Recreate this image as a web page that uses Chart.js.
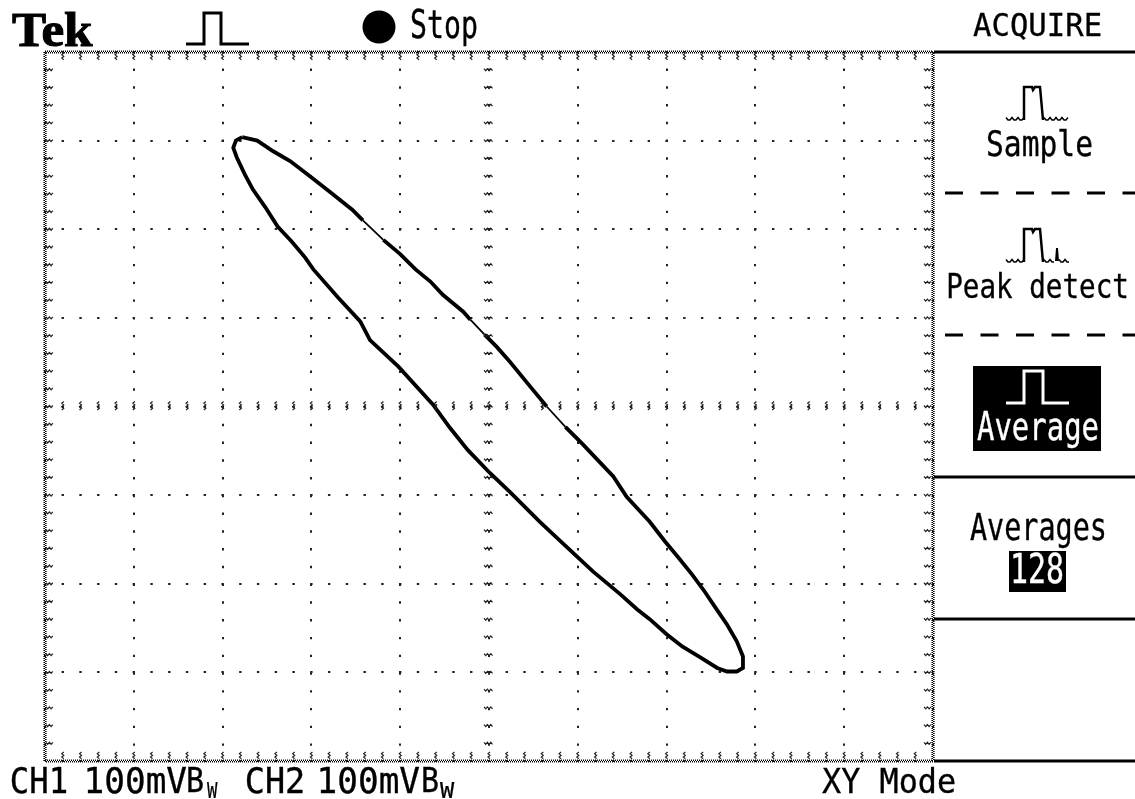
<!DOCTYPE html>
<html>
<head>
<meta charset="utf-8">
<style>html,body{margin:0;padding:0;background:#fff;overflow:hidden}canvas{display:block}</style>
<script src="https://cdn.jsdelivr.net/npm/chart.js@4/dist/chart.umd.min.js"></script>
</head>
<body>
<canvas id="c" width="1135" height="799"></canvas>
<script>
// Lissajous trace, CH1 (x) and CH2 (y), millivolts
const ch1mV = [-278,-261,-243,-224,-202,-179,-154,-142,-119,-100,-83,-66,-52,-29,-21,-5,9,24,46,65,86,106,122,140,155,181,198,213,229,243,255,268,279,286,286,279,268,257,238,218,200,181,167,148,117,88,72,57,24,1,-24,-44,-63,-102,-134,-145,-170,-198,-207,-222,-238,-252,-266,-275,-284,-288,-285,-278];
const ch2mV = [304,300,288,277,260,242,222,210,188,172,155,141,126,107,98,81,67,50,23,0,-23,-43,-60,-79,-102,-130,-152,-170,-190,-209,-227,-246,-265,-282,-295,-299,-299,-295,-283,-271,-257,-240,-229,-212,-186,-159,-144,-130,-97,-75,-49,-24,2,45,75,96,123,155,168,186,203,225,245,262,281,292,300,304];
const xRange = [-500,500];
const yRange = [-400,400];
const divMV = 100;
const minorMV = 20;
const thinSegments = [7,14,19];

// font, text, x0, x1, yTop, yBottom, colour
const MONO = '"DejaVu Sans Mono"';
const labels = [
  ['bold 46px "Liberation Serif"','Tek',12,93,12,46,'#000'],
  [MONO,'Stop',412,477,10,46,'#000'],
  [MONO,'ACQUIRE',973,1101,12,40,'#000'],
  [MONO,'Sample',988,1092,128,163,'#000'],
  [MONO,'Peak detect',948,1127,272,298,'#000'],
  [MONO,'Averages',970,1105,513,547,'#000'],
  [MONO,'CH1',12,67,767,793,'#000'],
  [MONO,'100mV',87,187,767,793,'#000'],
  [MONO,'B',188,203,767,792,'#000'],
  [MONO,'W',207,218,783,798,'#000'],
  [MONO,'CH2',247,303,767,793,'#000'],
  [MONO,'100mV',320,420,767,793,'#000'],
  [MONO,'B',423,438,767,792,'#000'],
  [MONO,'W',440,455,783,798,'#000'],
  [MONO,'XY Mode',822,955,767,793,'#000']
];
const invLabels = [
  [MONO,'Average',977,1098,412,448,'#fff'],
  [MONO,'128',1013,1063,553,583,'#fff']
];

function fitText(ctx,l){
  const [font,t,x0,x1,y0,y1,col]=l;
  ctx.save();
  ctx.font = font.includes('px') ? font : '30px '+font;
  ctx.fillStyle=col; ctx.strokeStyle=col; ctx.lineWidth=font.includes('px')?1:0.3;
  ctx.textBaseline='alphabetic'; ctx.textAlign='left';
  const m=ctx.measureText(t);
  const w=m.actualBoundingBoxLeft+m.actualBoundingBoxRight;
  const h=m.actualBoundingBoxAscent+m.actualBoundingBoxDescent;
  const sx=(x1-x0)/w, sy=(y1-y0)/h;
  ctx.translate(x0,y0); ctx.scale(sx,sy);
  ctx.fillText(t,m.actualBoundingBoxLeft,m.actualBoundingBoxAscent);
  ctx.strokeText(t,m.actualBoundingBoxLeft,m.actualBoundingBoxAscent);
  ctx.restore();
}
function poly(ctx,pts,col,w){
  ctx.save();ctx.strokeStyle=col;ctx.lineWidth=w;ctx.lineJoin='miter';ctx.beginPath();
  pts.forEach((p,i)=>i?ctx.lineTo(p[0],p[1]):ctx.moveTo(p[0],p[1]));ctx.stroke();ctx.restore();
}
function frameLine(ctx,x0,y0,x1,y1){
  ctx.save();ctx.strokeStyle='#000';ctx.lineWidth=1.6;ctx.setLineDash([1,1]);
  const h=y0===y1;
  [-0.8,0.8].forEach((o,i)=>{
    ctx.lineDashOffset=i;
    ctx.beginPath();
    ctx.moveTo(x0+(h?0:o),y0+(h?o:0));ctx.lineTo(x1+(h?0:o),y1+(h?o:0));ctx.stroke();
  });
  ctx.restore();
}
function tick(ctx,x0,y0,x1,y1){
  const len=Math.hypot(x1-x0,y1-y0), ux=(x1-x0)/len, uy=(y1-y0)/len;
  ctx.save();ctx.strokeStyle='#222';ctx.lineWidth=1.2;ctx.beginPath();
  for(let s=0,i=0;s<=len;s+=1.7,i++){
    const o=i%2?1:-1;
    const px=x0+ux*s-uy*o, py=y0+uy*s+ux*o;
    i?ctx.lineTo(px,py):ctx.moveTo(px,py);
  }
  ctx.stroke();ctx.restore();
}
function poly2(ctx,pts){
  ctx.strokeStyle='#000';ctx.lineWidth=3;ctx.beginPath();
  ctx.moveTo(pts[0][0],pts[0][1]);ctx.lineTo(pts[1][0],pts[1][1]);ctx.stroke();
}
function wiggle(ctx,x0,x1,y){
  ctx.save();ctx.strokeStyle='#000';ctx.lineWidth=1.5;ctx.beginPath();
  for(let px=x0,i=0;px<=x1;px+=2,i++){const py=y+(i%3===0?-1.5:1);i?ctx.lineTo(px,py):ctx.moveTo(px,py);}
  ctx.stroke();ctx.restore();
}

const scopeFurniture = {
  id:'scopeFurniture',
  afterDraw(chart){
    const {ctx,chartArea:a,scales:{x,y}}=chart;
    // frame
    frameLine(ctx,a.left,a.top,a.right,a.top);
    frameLine(ctx,a.left,a.bottom,a.right,a.bottom);
    frameLine(ctx,a.left,a.top,a.left,a.bottom);
    frameLine(ctx,a.right,a.top,a.right,a.bottom);
    // minor ticks on frame and centre axes
    const cx=x.getPixelForValue(0), cy=y.getPixelForValue(0), L=9;
    for(let v=xRange[0]+minorMV;v<xRange[1];v+=minorMV){
      const p=x.getPixelForValue(v);
      tick(ctx,p,a.top+1,p,a.top+L);
      tick(ctx,p,a.bottom-L,p,a.bottom-1);
      tick(ctx,p,cy-5,p,cy+5);
    }
    for(let v=yRange[0]+minorMV;v<yRange[1];v+=minorMV){
      const p=y.getPixelForValue(v);
      tick(ctx,a.left+1,p,a.left+L,p);
      tick(ctx,a.right-L,p,a.right-1,p);
      tick(ctx,cx-5,p,cx+5,p);
    }
    // side menu rules
    poly(ctx,[[934,52],[1135,52]],'#000',3);
    poly(ctx,[[934,477],[1135,477]],'#000',3);
    poly(ctx,[[934,619],[1135,619]],'#000',3);
    poly(ctx,[[934,761],[1135,761]],'#000',3);
    ctx.save();ctx.setLineDash([18,17.5]);
    poly2(ctx,[[945,193],[1135,193]]);
    poly2(ctx,[[945,335],[1135,335]]);
    ctx.restore();
    // selected boxes
    ctx.fillStyle='#000';
    ctx.fillRect(973,366,128,85);
    ctx.fillRect(1009,551,57,41);
    // header pulse
    poly(ctx,[[186,44],[204,44],[204,13],[221,13],[221,44],[249,44]],'#000',3);
    // stop dot
    ctx.beginPath();ctx.arc(379,27,16.5,0,Math.PI*2);ctx.fill();
    // acquisition icons
    poly(ctx,[[1024,120],[1024,87],[1032,87],[1033,90],[1035,87],[1040,87],[1043,120]],'#000',2.5);
    wiggle(ctx,1006,1024,119);wiggle(ctx,1044,1069,119);
    poly(ctx,[[1024,262],[1024,229],[1032,229],[1033,232],[1035,229],[1040,229],[1043,262]],'#000',2.5);
    wiggle(ctx,1006,1024,261);wiggle(ctx,1044,1054,261);wiggle(ctx,1059,1069,261);
    poly(ctx,[[1056,261],[1057,248],[1058,261]],'#000',2);
    poly(ctx,[[1006,403],[1024,403],[1024,371],[1043,371],[1043,403],[1069,403]],'#fff',3);
    labels.forEach(l=>fitText(ctx,l));
    invLabels.forEach(l=>fitText(ctx,l));
  }
};

new Chart(document.getElementById('c'),{
  type:'scatter',
  data:{datasets:[{
    label:'XY',
    data:ch1mV.map((v,i)=>({x:v,y:ch2mV[i]})),
    showLine:true,borderColor:'#000',borderWidth:3.8,pointRadius:0,tension:0,fill:false,
    segment:{borderWidth:c=>thinSegments.includes(c.p0DataIndex)?1.8:undefined}
  }]},
  options:{
    responsive:false,animation:false,
    layout:{padding:{left:45,right:202,top:52,bottom:38}},
    plugins:{legend:{display:false},tooltip:{enabled:false},title:{display:false}},
    scales:{
      x:{type:'linear',min:xRange[0],max:xRange[1],
        ticks:{stepSize:divMV,display:false},
        grid:{color:'#222',lineWidth:2,drawTicks:false,tickLength:0},
        border:{display:false,dash:[2.4,15.36],dashOffset:1.2}},
      y:{type:'linear',min:yRange[0],max:yRange[1],
        ticks:{stepSize:divMV,display:false},
        grid:{color:'#222',lineWidth:2,drawTicks:false,tickLength:0},
        border:{display:false,dash:[2.4,15.36],dashOffset:1.2}}
    }
  },
  plugins:[scopeFurniture]
});
</script>
</body>
</html>
